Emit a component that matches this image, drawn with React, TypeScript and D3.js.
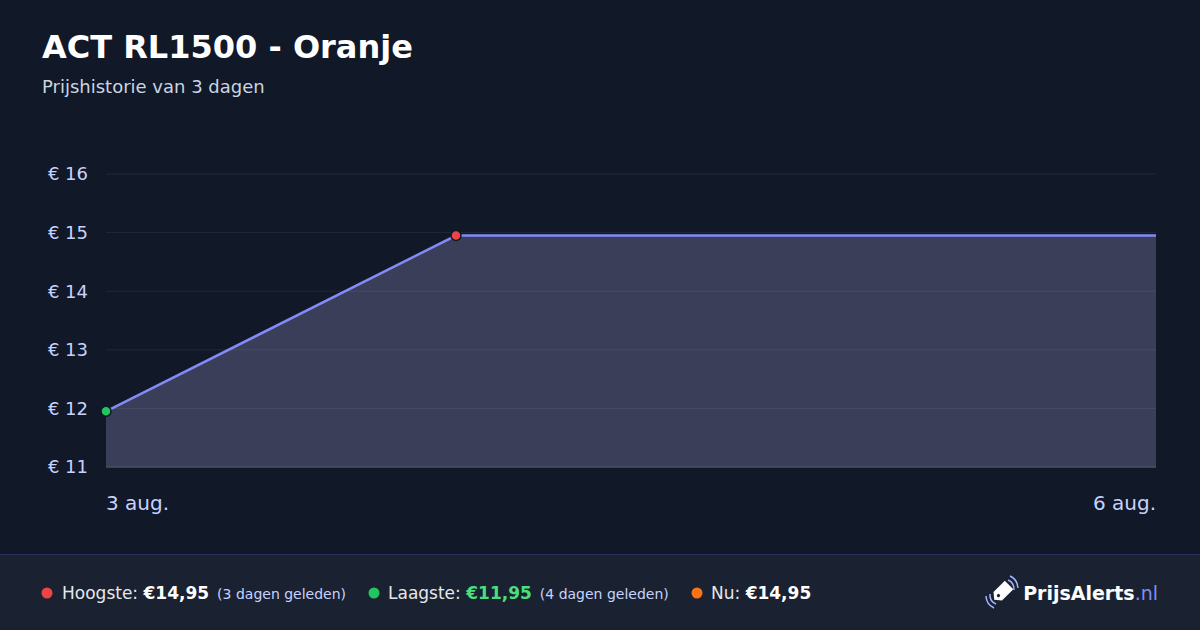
import React from "react";
import * as d3 from "d3";

const dates = ["2024-08-03", "2024-08-04", "2024-08-06"];
const prices = [11.95, 14.95, 14.95];
const yTicks = [11, 12, 13, 14, 15, 16];
const xTickLabels = ["3 aug.", "6 aug."];

const W = 1200;
const H = 630;
const FONT = "'DejaVu Sans', Verdana, sans-serif";

export default function App() {
  const parse = d3.timeParse("%Y-%m-%d");
  const points = dates.map((d, i) => ({ date: parse(d) as Date, price: prices[i] }));

  const x = d3
    .scaleTime()
    .domain([points[0].date, points[points.length - 1].date])
    .range([106, 1156]);
  const y = d3.scaleLinear().domain([11, 16]).range([467, 174]);

  const line = d3
    .line<{ date: Date; price: number }>()
    .x((d) => x(d.date))
    .y((d) => y(d.price));
  const area = d3
    .area<{ date: Date; price: number }>()
    .x((d) => x(d.date))
    .y0(y(11))
    .y1((d) => y(d.price));

  const minIdx = d3.minIndex(points, (d) => d.price);
  const maxIdx = d3.maxIndex(points, (d) => d.price);

  return (
    <div style={{ position: "fixed", left: 0, top: 0 }}>
      <svg width={W} height={H} style={{ display: "block", fontFamily: FONT }}>
        <rect width={W} height={H} fill="#111827" />

        {/* header */}
        <text x={42} y={58} fill="#ffffff" fontSize={32} fontWeight="bold">
          ACT RL1500 - Oranje
        </text>
        <text x={42} y={93} fill="#cbd5e1" fontSize={18}>
          Prijshistorie van 3 dagen
        </text>

        {/* area + grid */}
        <path d={area(points) || ""} fill="#3a3e58" />
        {yTicks.map((t) => (
          <g key={t}>
            <line
              x1={106}
              x2={1156}
              y1={y(t)}
              y2={y(t)}
              stroke={t === 11 ? "#4b5064" : "rgba(255,255,255,0.07)"}
              strokeWidth={t === 11 ? 1.5 : 1}
            />
            <text
              x={88}
              y={y(t)}
              dy="0.35em"
              textAnchor="end"
              fill="#c7d2fe"
              fontSize={18}
            >
              € {t}
            </text>
          </g>
        ))}
        <path d={line(points) || ""} fill="none" stroke="#818cf8" strokeWidth={2.5} />
        <circle
          cx={x(points[minIdx].date)}
          cy={y(points[minIdx].price)}
          r={5}
          fill="#22c55e"
          stroke="#111827"
          strokeWidth={1.5}
        />
        <circle
          cx={x(points[maxIdx].date)}
          cy={y(points[maxIdx].price)}
          r={5}
          fill="#ef4444"
          stroke="#111827"
          strokeWidth={1.5}
        />

        {/* x labels */}
        <text x={x(points[0].date)} y={510} fill="#c7d2fe" fontSize={20}>
          {xTickLabels[0]}
        </text>
        <text
          x={x(points[points.length - 1].date)}
          y={510}
          textAnchor="end"
          fill="#c7d2fe"
          fontSize={20}
        >
          {xTickLabels[1]}
        </text>

        {/* footer */}
        <rect x={0} y={554} width={W} height={H - 554} fill="#1a2231" />
        <line x1={0} x2={W} y1={554.5} y2={554.5} stroke="#27305a" />

        <circle cx={47} cy={593} r={5.5} fill="#ef4444" />
        <text x={62} y={599} fontSize={17} fill="#e5e7eb">
          Hoogste: <tspan fontWeight="bold" fill="#ffffff">€14,95</tspan>
          <tspan dx={8} fontSize={14} fill="#c7d2fe">(3 dagen geleden)</tspan>
        </text>

        <circle cx={374} cy={593} r={5.5} fill="#22c55e" />
        <text x={388} y={599} fontSize={17} fill="#e5e7eb">
          Laagste: <tspan fontWeight="bold" fill="#4ade80">€11,95</tspan>
          <tspan dx={8} fontSize={14} fill="#c7d2fe">(4 dagen geleden)</tspan>
        </text>

        <circle cx={697} cy={593} r={5.5} fill="#f97316" />
        <text x={711} y={599} fontSize={17} fill="#e5e7eb">
          Nu: <tspan fontWeight="bold" fill="#ffffff">€14,95</tspan>
        </text>

        {/* logo */}
        <g transform="translate(1002,592)">
          <g transform="rotate(45)">
            <path d="M -6 -10 L 6 -10 L 6 6 L 0 11 L -6 6 Z" fill="#ffffff" />
            <circle cx={0} cy={5} r={1.6} fill="#1a2231" />
          </g>
          <path d="M 6 -12 A 10 10 0 0 1 12 -2" fill="none" stroke="#a5b4fc" strokeWidth={1.5} />
          <path d="M 8 -16 A 14 14 0 0 1 16 -4" fill="none" stroke="#a5b4fc" strokeWidth={1.5} />
          <path d="M -6 12 A 10 10 0 0 1 -12 2" fill="none" stroke="#a5b4fc" strokeWidth={1.5} />
          <path d="M -8 16 A 14 14 0 0 1 -16 4" fill="none" stroke="#a5b4fc" strokeWidth={1.5} />
        </g>
        <text x={1158} y={600} textAnchor="end" fontSize={19}>
          <tspan fontWeight="bold" fill="#ffffff">PrijsAlerts</tspan>
          <tspan fill="#818cf8">.nl</tspan>
        </text>
      </svg>
    </div>
  );
}
